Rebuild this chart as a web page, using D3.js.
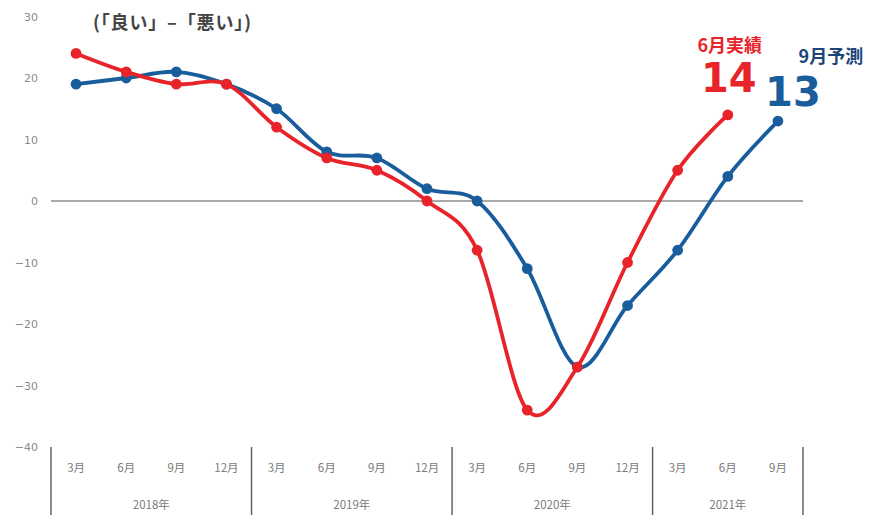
<!DOCTYPE html>
<html>
<head>
<meta charset="utf-8">
<script src="https://cdn.jsdelivr.net/npm/d3@7"></script>
<style>
  html, body { margin: 0; padding: 0; background: #fff; }
  svg { display: block; }
  text { font-family: "DejaVu Sans", "Noto Sans CJK JP", sans-serif; }
  .jp { font-family: "Noto Sans CJK JP", "DejaVu Sans", sans-serif; }
</style>
</head>
<body>
<svg id="chart" width="872" height="515"></svg>
<script>
// 業況判断DI（「良い」−「悪い」）: quarterly, 2018年3月 – 2021年9月
const years = ["2018年", "2019年", "2020年", "2021年"];
const monthsPerYear = [4, 4, 4, 3];
const monthNames = ["3月", "6月", "9月", "12月"];
const yTicks = [30, 20, 10, 0, -10, -20, -30, -40];

// 実績 (actual), through 2021年6月
const actual = [24, 21, 19, 19, 12, 7, 5, 0, -8, -34, -27, -10, 5, 14];
// 予測 (forecast), through 2021年9月
const forecast = [19, 20, 21, 19, 15, 8, 7, 2, 0, -11, -27, -17, -8, 4, 13];

const actualLabel = { head: "6月実績", value: 14 };
const forecastLabel = { head: "9月予測", value: 13 };

// category keys: year + month
const cats = [];
years.forEach((yr, i) => {
  for (let m = 0; m < monthsPerYear[i]; m++) cats.push({ key: yr + monthNames[m], year: yr, month: monthNames[m] });
});

const svg = d3.select("#chart");
const red = "#e8232a", blue = "#195d9d", navy = "#1d4577";

const x = d3.scaleBand().domain(cats.map(c => c.key)).range([51, 803]).padding(0);
const y = d3.scaleLinear().domain([-40, 30]).range([447, 16.5]);

// y-axis labels (no line)
const yAxis = svg.append("g")
  .attr("transform", "translate(38,0)")
  .call(d3.axisLeft(y).tickValues(yTicks).tickSize(0).tickPadding(0).tickFormat(d3.format("d")));
yAxis.select(".domain").remove();
yAxis.selectAll("text").attr("fill", "#8a8a8a").attr("font-size", 11);

// zero baseline
svg.append("line")
  .attr("x1", x.range()[0]).attr("x2", x.range()[1])
  .attr("y1", y(0)).attr("y2", y(0))
  .attr("stroke", "#8c8c8c").attr("stroke-width", 1.6);

// month labels
const xAxis = svg.append("g")
  .attr("transform", `translate(0,${y(-40)})`)
  .call(d3.axisBottom(x).tickSize(0).tickPadding(17).tickFormat(k => cats.find(c => c.key === k).month));
xAxis.select(".domain").remove();
xAxis.selectAll("text").attr("class", "jp").attr("fill", "#7a7a7a").attr("font-size", 11.5);

// year group separators and labels
let start = 0;
const groups = years.map((yr, i) => {
  const g = { year: yr, first: cats[start].key, last: cats[start + monthsPerYear[i] - 1].key };
  start += monthsPerYear[i];
  return g;
});
const sepX = [x(groups[0].first)].concat(groups.map(g => x(g.last) + x.bandwidth()));
svg.selectAll("line.sep").data(sepX).join("line")
  .attr("class", "sep")
  .attr("x1", d => d).attr("x2", d => d)
  .attr("y1", y(-40)).attr("y2", 515)
  .attr("stroke", "#5a5a5a").attr("stroke-width", 1.4);
svg.selectAll("text.year").data(groups).join("text")
  .attr("class", "year jp")
  .attr("x", g => (x(g.first) + x(g.last) + x.bandwidth()) / 2)
  .attr("y", 509)
  .attr("text-anchor", "middle")
  .attr("fill", "#7a7a7a").attr("font-size", 11.5)
  .text(g => g.year);

// title
svg.append("text")
  .attr("class", "jp")
  .attr("x", 93).attr("y", 29)
  .attr("textLength", 158).attr("lengthAdjust", "spacing")
  .attr("font-size", 18).attr("font-weight", "bold")
  .attr("fill", "#444")
  .text("(「良い」–「悪い」)");

// series
const line = d3.line()
  .x((d, i) => x(cats[i].key) + x.bandwidth() / 2)
  .y(d => y(d))
  .curve(d3.curveCardinal.tension(0));

function drawSeries(vals, color) {
  svg.append("path").datum(vals)
    .attr("d", line)
    .attr("fill", "none").attr("stroke", color)
    .attr("stroke-width", 3.8).attr("stroke-linejoin", "round");
  svg.append("g").selectAll("circle").data(vals).join("circle")
    .attr("cx", (d, i) => x(cats[i].key) + x.bandwidth() / 2)
    .attr("cy", d => y(d))
    .attr("r", 5.4)
    .attr("fill", color);
}
drawSeries(forecast, blue);
drawSeries(actual, red);

// end labels
const ax = x(cats[actual.length - 1].key) + x.bandwidth() / 2;
const fx = x(cats[forecast.length - 1].key) + x.bandwidth() / 2;
svg.append("text").attr("class", "jp")
  .attr("x", ax + 2).attr("y", 52).attr("text-anchor", "middle")
  .attr("font-size", 18).attr("font-weight", "bold").attr("fill", red)
  .text(actualLabel.head);
svg.append("text")
  .attr("x", ax + 1).attr("y", 92).attr("text-anchor", "middle")
  .attr("font-size", 40).attr("font-weight", "bold").attr("fill", red)
  .text(actualLabel.value);
svg.append("text").attr("class", "jp")
  .attr("x", fx + 53).attr("y", 63).attr("text-anchor", "middle")
  .attr("font-size", 18).attr("font-weight", "bold").attr("fill", navy)
  .text(forecastLabel.head);
svg.append("text")
  .attr("x", fx + 15).attr("y", 106).attr("text-anchor", "middle")
  .attr("font-size", 40).attr("font-weight", "bold").attr("fill", blue)
  .text(forecastLabel.value);
</script>
</body>
</html>
